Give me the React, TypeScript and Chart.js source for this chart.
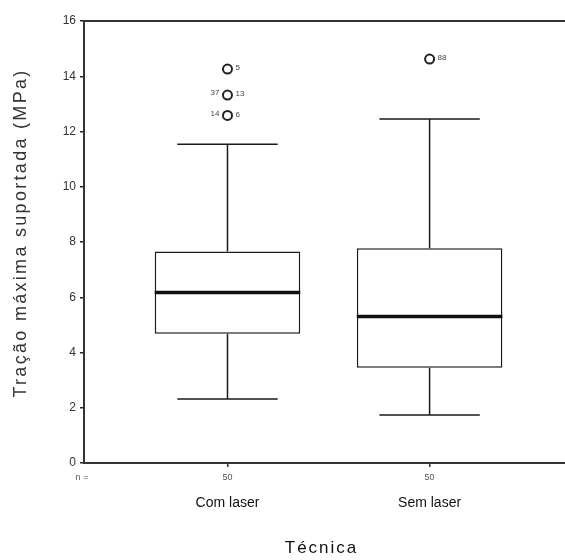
import React, { useEffect, useRef } from 'react';
import { Chart, registerables } from 'chart.js';

Chart.register(...registerables);

// ---- data ----
const categories = ['Com laser', 'Sem laser'];
const nLabels = ['50', '50'];
const whiskerLow = [2.32, 1.74];
const q1 = [4.68, 3.45];
const median = [6.17, 5.3];
const q3 = [7.66, 7.77];
const whiskerHigh = [11.54, 12.45];
const outlierGroup = [1, 1, 1, 2];
const outlierValue = [14.26, 13.32, 12.58, 14.62];
const outlierLeftLabel = ['', '37', '14', ''];
const outlierRightLabel = ['5', '13', '6', '88'];
const yMin = 0;
const yMax = 16;
const yStep = 2;
const xMin = 0.29;
const xMax = 2.67;
const yTitle = 'Tração máxima suportada (MPa)';
const xTitle = 'Técnica';

const FONT = "'Liberation Sans', Arial, sans-serif";
const INK = '#1a1a1a';

const boxPlotPlugin = {
  id: 'boxPlotExtras',
  afterDatasetsDraw(chart: any) {
    const ctx = chart.ctx;
    const yScale = chart.scales.y;
    const xScale = chart.scales.x;
    const meta = chart.getDatasetMeta(0);
    const area = chart.chartArea;
    ctx.save();
    // top frame line
    ctx.strokeStyle = '#333';
    ctx.lineWidth = 2;
    ctx.beginPath();
    ctx.moveTo(area.left, area.top);
    ctx.lineTo(area.right, area.top);
    ctx.stroke();

    categories.forEach((_, i) => {
      const bar = meta.data[i];
      const cx = bar.x;
      const w = bar.width;
      const capHalf = (w * 0.69) / 2;
      const yLo = yScale.getPixelForValue(whiskerLow[i]);
      const yQ1 = yScale.getPixelForValue(q1[i]);
      const yQ3 = yScale.getPixelForValue(q3[i]);
      const yHi = yScale.getPixelForValue(whiskerHigh[i]);
      const yMed = yScale.getPixelForValue(median[i]);
      ctx.strokeStyle = INK;
      ctx.lineWidth = 1.5;
      ctx.beginPath();
      ctx.moveTo(cx, yQ3);
      ctx.lineTo(cx, yHi);
      ctx.moveTo(cx - capHalf, yHi);
      ctx.lineTo(cx + capHalf, yHi);
      ctx.moveTo(cx, yQ1);
      ctx.lineTo(cx, yLo);
      ctx.moveTo(cx - capHalf, yLo);
      ctx.lineTo(cx + capHalf, yLo);
      ctx.stroke();
      ctx.lineWidth = 3.5;
      ctx.strokeStyle = '#111';
      ctx.beginPath();
      ctx.moveTo(cx - w / 2, yMed);
      ctx.lineTo(cx + w / 2, yMed);
      ctx.stroke();
    });

    // outlier labels
    ctx.fillStyle = '#444';
    ctx.font = `8px ${FONT}`;
    ctx.textBaseline = 'middle';
    outlierValue.forEach((v, i) => {
      const px = xScale.getPixelForValue(outlierGroup[i]);
      const py = yScale.getPixelForValue(v);
      if (outlierLeftLabel[i]) {
        ctx.textAlign = 'right';
        ctx.fillText(outlierLeftLabel[i], px - 8, py - 2);
      }
      if (outlierRightLabel[i]) {
        ctx.textAlign = 'left';
        ctx.fillText(outlierRightLabel[i], px + 8, py - 1);
      }
    });

    // "n =" label
    ctx.fillStyle = '#555';
    ctx.font = `9px ${FONT}`;
    ctx.textAlign = 'center';
    ctx.fillText('n =', area.left - 2, xScale.top + 15);

    // axis titles (letter-spaced like the reference)
    (ctx as any).letterSpacing = '2.3px';
    ctx.fillStyle = '#333';
    ctx.font = `18px ${FONT}`;
    ctx.textAlign = 'center';
    ctx.textBaseline = 'middle';
    ctx.save();
    ctx.translate(21, (area.top + area.bottom) / 2 - 9);
    ctx.rotate(-Math.PI / 2);
    ctx.fillText(yTitle, 0, 0);
    ctx.restore();

    (ctx as any).letterSpacing = '2px';
    ctx.fillStyle = '#111';
    ctx.font = `17px ${FONT}`;
    ctx.fillText(xTitle, (xScale.getPixelForValue(1) + xScale.getPixelForValue(2)) / 2 - 7, 548);
    (ctx as any).letterSpacing = '0px';
    ctx.restore();
  },
};

export default function App() {
  const canvasRef = useRef<HTMLCanvasElement>(null);

  useEffect(() => {
    if (!canvasRef.current) return;
    const chart = new Chart(canvasRef.current, {
      type: 'bar',
      data: {
        datasets: [
          {
            type: 'bar',
            data: categories.map((_, i) => ({ x: i + 1, y: [q1[i], q3[i]] })) as any,
            backgroundColor: '#ffffff',
            borderColor: INK,
            borderWidth: 1.5,
            borderSkipped: false,
          } as any,
          {
            type: 'scatter',
            data: outlierValue.map((v, i) => ({ x: outlierGroup[i], y: v })),
            pointStyle: 'circle',
            pointRadius: 4.5,
            pointBorderWidth: 2,
            pointBorderColor: '#222',
            pointBackgroundColor: '#ffffff',
            showLine: false,
          } as any,
        ],
      },
      options: {
        animation: false,
        responsive: false,
        layout: { autoPadding: false, padding: { top: 21, right: 0, bottom: 0, left: 0 } },
        plugins: {
          legend: { display: false },
          tooltip: { enabled: false },
        },
        scales: {
          y: {
            type: 'linear',
            min: yMin,
            max: yMax,
            ticks: {
              stepSize: yStep,
              color: '#333',
              padding: 4,
              font: { family: FONT, size: 12 },
            },
            grid: {
              drawOnChartArea: false,
              tickLength: 4,
              color: '#222',
              lineWidth: 1.5,
            },
            border: { color: '#333', width: 2 },
            afterFit(scale: any) {
              scale.width = 84;
            },
          },
          x: {
            type: 'linear',
            position: 'bottom',
            min: xMin,
            max: xMax,
            offset: false,
            weight: 0,
            afterBuildTicks(scale: any) {
              scale.ticks = categories.map((_, i) => ({ value: i + 1 }));
            },
            ticks: {
              callback: (_v: any, idx: number) => nLabels[idx],
              color: '#555',
              padding: 5,
              font: { family: FONT, size: 9 },
            },
            grid: {
              offset: false,
              drawOnChartArea: false,
              tickLength: 4,
              color: '#333',
              lineWidth: 1.5,
            },
            border: { color: '#333', width: 2 },
            afterFit(scale: any) {
              scale.height = 25;
              scale.paddingLeft = 0;
              scale.paddingRight = 0;
            },
          },
          x2: {
            type: 'linear',
            position: 'bottom',
            min: xMin,
            max: xMax,
            offset: false,
            weight: 1,
            afterBuildTicks(scale: any) {
              scale.ticks = categories.map((_, i) => ({ value: i + 1 }));
            },
            ticks: {
              callback: (_v: any, idx: number) => categories[idx],
              color: '#111',
              padding: 7,
              font: { family: FONT, size: 14 },
            },
            grid: { display: false, drawTicks: false, tickLength: 0, offset: false },
            border: { display: false },
            afterFit(scale: any) {
              scale.height = 72;
              scale.paddingLeft = 0;
              scale.paddingRight = 0;
            },
          },
        },
      } as any,
      plugins: [boxPlotPlugin],
    });
    return () => chart.destroy();
  }, []);

  return (
    <div style={{ position: 'absolute', left: 0, top: 0, width: 565, height: 560, background: '#fff' }}>
      <canvas ref={canvasRef} width={565} height={560} style={{ display: 'block' }} />
    </div>
  );
}
